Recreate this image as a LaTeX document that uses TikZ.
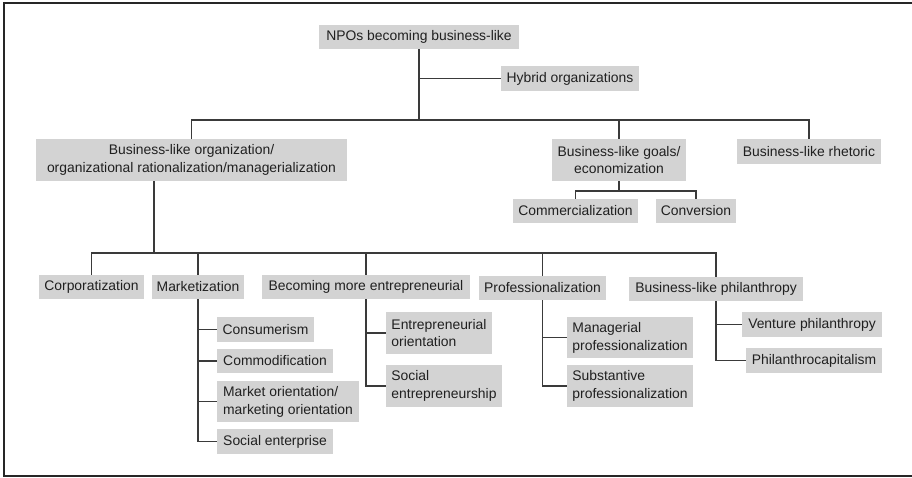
\documentclass[tikz,border=0pt]{standalone}
\usepackage{fontspec}
\setmainfont{Liberation Sans}
\definecolor{boxgray}{HTML}{D3D3D3}
\definecolor{linegray}{HTML}{3A3A3A}
\definecolor{textgray}{HTML}{202020}
\tikzset{
  box/.style={fill=boxgray, inner sep=0pt, font=\fontsize{13.9}{17.8}\selectfont, text=textgray},
  conn/.style={draw=linegray, line width=1.4pt},
  frame/.style={draw=black!85, line width=2pt},
}
\newcommand{\bnode}[7]{\node[box,#7,minimum width={(#4-#2)*1pt},minimum height={(#5-#3)*1pt}] (#1) at ({(#2+#4)/2},{(#3+#5)/2}) {#6};}
\begin{document}
\begin{tikzpicture}[x=1pt,y=-1pt]
\useasboundingbox (0,0) rectangle (912,477);
\draw[frame] (912,2.5) -- (3.5,2.5) -- (3.5,476) -- (912,476);
% level 0/1
\bnode{npo}{319}{25}{519}{49}{NPOs becoming business-like}{align=center}
\bnode{hyb}{501}{66}{639}{91}{Hybrid organizations}{align=center}
\bnode{borg}{36}{139}{347}{181}{Business-like organization/\\organizational rationalization/managerialization}{align=center}
\bnode{goals}{552}{139}{686}{181}{Business-like goals/\\economization}{align=center}
\bnode{rhet}{737}{139}{881}{164}{Business-like rhetoric}{align=center}
\bnode{comm}{513}{199}{638}{223}{Commercialization}{align=center}
\bnode{conv}{656}{199}{736}{223}{Conversion}{align=center}
% level 2
\bnode{corp}{39}{275}{144}{299}{Corporatization}{align=center}
\bnode{mkt}{152}{275}{244}{299}{Marketization}{align=center}
\bnode{becom}{262}{275}{470}{299}{Becoming more entrepreneurial}{align=center}
\bnode{prof}{479}{276}{606}{300}{Professionalization}{align=center}
\bnode{phil}{629}{277}{803}{301}{Business-like philanthropy}{align=center}
% leaves
\bnode{cons}{217}{317}{314}{342}{Consumerism}{align=left}
\bnode{commod}{217}{349}{333}{373}{Commodification}{align=left}
\bnode{mor}{217}{381}{359}{422}{Market orientation/\\marketing orientation}{align=left}
\bnode{senter}{217}{429}{333}{454}{Social enterprise}{align=left}
\bnode{eo}{386}{312}{492}{354}{Entrepreneurial\\orientation}{align=left}
\bnode{se}{386}{365}{502}{407}{Social\\entrepreneurship}{align=left}
\bnode{mp}{567}{317}{693}{358}{Managerial\\professionalization}{align=left}
\bnode{sp}{567}{365}{693}{407}{Substantive\\professionalization}{align=left}
\bnode{vp}{742}{312}{882}{337}{Venture philanthropy}{align=left}
\bnode{pc}{746}{348}{882}{373}{Philanthrocapitalism}{align=left}
% connectors
\coordinate (bus1) at (0,120);
\draw[conn] (npo.south) -- (npo.south |- bus1);
\draw[conn] (npo.south |- hyb.west) -- (hyb.west);
\draw[conn] (borg.north) -- (borg.north |- bus1) -- (rhet.north |- bus1) -- (rhet.north);
\draw[conn] (goals.north) -- (goals.north |- bus1);
\coordinate (bus2) at (0,191);
\draw[conn] (goals.south) -- (goals.south |- bus2);
\draw[conn] (comm.north) -- (comm.north |- bus2) -- (conv.north |- bus2) -- (conv.north);
\coordinate (b3) at (154,253);
\draw[conn] (borg.south -| b3) -- (b3);
\draw[conn] (corp.north) -- (corp.north |- b3) -- (phil.north |- b3) -- (phil.north);
\draw[conn] (mkt.north) -- (mkt.north |- b3);
\draw[conn] (becom.north) -- (becom.north |- b3);
\draw[conn] (prof.north) -- (prof.north |- b3);
% children
\draw[conn] (mkt.south) |- (senter.west);
\draw[conn] (mkt.south |- cons.west) -- (cons.west);
\draw[conn] (mkt.south |- commod.west) -- (commod.west);
\draw[conn] (mkt.south |- mor.west) -- (mor.west);
\draw[conn] (becom.south) |- (se.west);
\draw[conn] (becom.south |- eo.west) -- (eo.west);
\draw[conn] (prof.south) |- (sp.west);
\draw[conn] (prof.south |- mp.west) -- (mp.west);
\draw[conn] (phil.south) |- (pc.west);
\draw[conn] (phil.south |- vp.west) -- (vp.west);
\end{tikzpicture}
\end{document}
